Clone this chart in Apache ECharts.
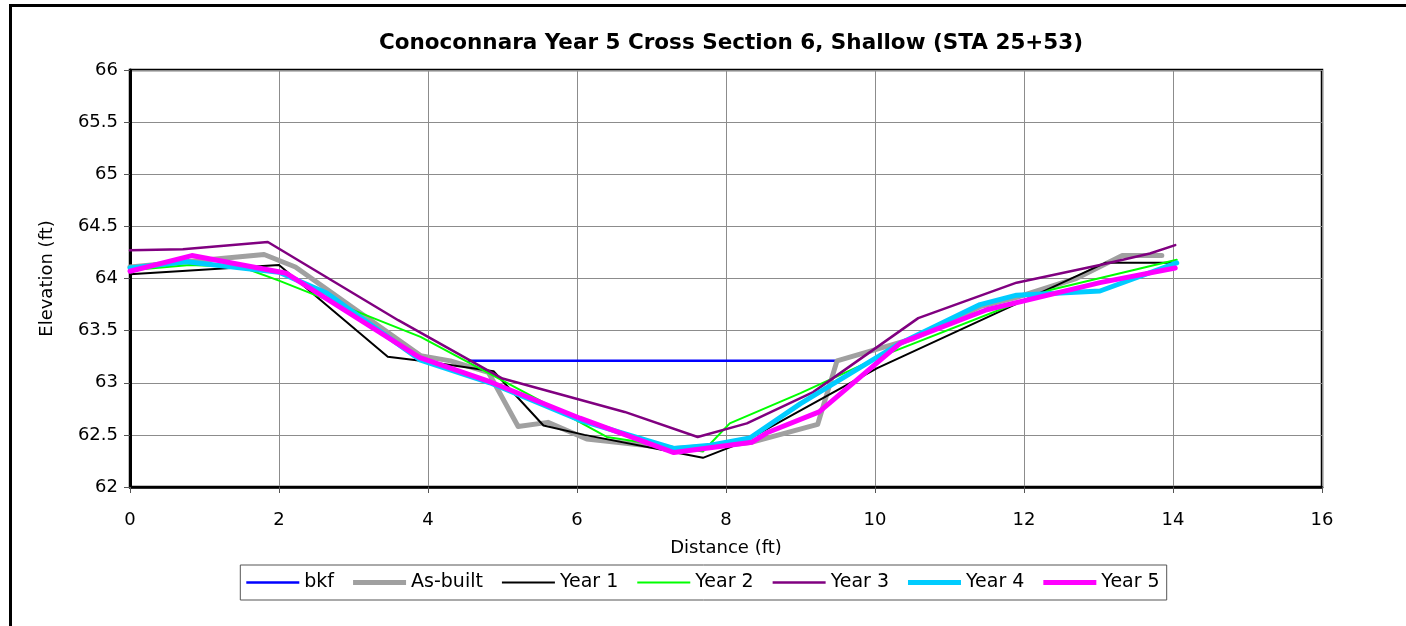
<!DOCTYPE html>
<html>
<head>
<meta charset="utf-8">
<title>Conoconnara Year 5 Cross Section 6</title>
<script src="https://cdn.jsdelivr.net/npm/echarts@6/dist/echarts.min.js"></script>
<style>
  html, body { margin: 0; padding: 0; background: #fff; }
  #chart { width: 1406px; height: 626px; }
</style>
</head>
<body>
<div id="chart"></div>
<script>
// Survey profiles: [distance (ft), elevation (ft)]
const bkf = [[4.55, 63.21], [9.48, 63.21]];
const asBuilt = [[0, 64.11], [1.8, 64.23], [2.22, 64.11], [3.9, 63.26], [4.3, 63.21], [4.81, 63.10],
  [5.21, 62.58], [5.61, 62.62], [6.13, 62.46], [7.3, 62.37], [8.0, 62.40], [8.35, 62.43],
  [9.23, 62.60], [9.49, 63.21], [10.5, 63.42], [11.41, 63.73], [11.9, 63.82], [12.7, 64.0],
  [13.32, 64.22], [13.85, 64.22]];
const year1 = [[0, 64.04], [2.0, 64.13], [3.46, 63.25], [3.9, 63.21], [4.88, 63.11], [5.55, 62.59],
  [6.1, 62.5], [7.69, 62.28], [8.23, 62.43], [10.03, 63.14], [13.09, 64.15], [14.05, 64.15]];
const year2 = [[0, 64.08], [0.8, 64.13], [1.5, 64.11], [2.0, 63.98], [3.9, 63.44], [5.5, 62.83],
  [6.4, 62.48], [7.69, 62.34], [8.05, 62.61], [9.0, 62.9], [10.07, 63.25], [12.35, 63.89],
  [14.05, 64.18]];
const year3 = [[0, 64.27], [0.71, 64.28], [1.85, 64.35], [3.6, 63.6], [5.0, 63.04], [6.64, 62.72],
  [7.62, 62.48], [8.28, 62.61], [9.17, 62.91], [10.58, 63.62], [11.9, 63.96], [13.02, 64.13],
  [13.69, 64.24], [14.03, 64.32]];
const year4 = [[0, 64.10], [0.76, 64.16], [2.0, 64.06], [2.64, 63.86], [3.89, 63.22], [4.83, 63.0],
  [6.04, 62.64], [7.3, 62.37], [7.79, 62.40], [8.32, 62.47], [9.0, 62.8], [10.34, 63.38],
  [11.41, 63.75], [11.9, 63.84], [13.02, 63.88], [14.05, 64.15]];
const year5 = [[0, 64.07], [0.83, 64.22], [2.1, 64.05], [3.89, 63.24], [4.83, 63.01], [6.04, 62.66],
  [7.3, 62.33], [8.35, 62.43], [8.55, 62.52], [9.25, 62.72], [10.34, 63.38], [11.5, 63.7],
  [13.02, 63.96], [14.03, 64.10]];

const seriesNames = ['bkf', 'As-built', 'Year 1', 'Year 2', 'Year 3', 'Year 4', 'Year 5'];
const seriesData = [bkf, asBuilt, year1, year2, year3, year4, year5];
const seriesColors = ['#0000FF', '#A0A0A0', '#000000', '#00FF00', '#800080', '#00CCFF', '#FF00FF'];
const seriesWidths = [2.5, 5, 2, 2, 2.5, 5, 5];

const FONT = 'DejaVu Sans';
const LEGEND_W = 53;

// Legend key: a plain horizontal bar as thick as the series line
function legendBar(width) {
  return 'path://M0,0 L' + LEGEND_W + ',0 L' + LEGEND_W + ',' + width + ' L0,' + width + ' Z';
}

const chart = echarts.init(document.getElementById('chart'), null, { renderer: 'canvas' });

chart.setOption({
  animation: false,
  backgroundColor: '#ffffff',
  title: {
    text: 'Conoconnara Year 5 Cross Section 6, Shallow (STA 25+53)',
    left: 726,
    top: 27,
    textAlign: 'center',
    textStyle: { fontFamily: FONT, fontWeight: 'bold', fontSize: 21.5, color: '#000' }
  },
  grid: {
    left: 130, right: 84, top: 70, bottom: 139,
    show: true, borderColor: '#000', borderWidth: 2.5, backgroundColor: 'transparent'
  },
  legend: {
    data: seriesNames.map((name, i) => ({ name: name, icon: legendBar(seriesWidths[i]) })),
    left: 'center',
    top: 565,
    itemWidth: LEGEND_W,
    itemHeight: 14,
    itemGap: 19,
    symbolKeepAspect: true,
    padding: [8, 7, 8, 6],
    borderColor: '#555',
    borderWidth: 1,
    textStyle: { fontFamily: FONT, fontSize: 19, color: '#000' }
  },
  xAxis: {
    type: 'value',
    min: 0, max: 16, interval: 2,
    name: 'Distance (ft)',
    nameLocation: 'middle',
    nameGap: 52,
    nameTextStyle: { fontFamily: FONT, fontSize: 18, color: '#000' },
    axisLine: { show: true, onZero: false, lineStyle: { color: '#000', width: 2.5 } },
    axisTick: { show: true, inside: false, length: 6, lineStyle: { color: '#555' } },
    axisLabel: { margin: 24, fontFamily: FONT, fontSize: 18, color: '#000' },
    splitLine: { show: true, lineStyle: { color: '#8c8c8c', width: 1 } }
  },
  yAxis: {
    type: 'value',
    min: 62, max: 66, interval: 0.5,
    name: 'Elevation (ft)',
    nameLocation: 'middle',
    nameGap: 74,
    nameRotate: 90,
    nameTextStyle: { fontFamily: FONT, fontSize: 18, color: '#000' },
    axisLine: { show: true, onZero: false, lineStyle: { color: '#000', width: 3 } },
    axisTick: { show: true, inside: false, length: 6, lineStyle: { color: '#555' } },
    axisLabel: { margin: 12, fontFamily: FONT, fontSize: 18, color: '#000' },
    splitLine: { show: true, lineStyle: { color: '#8c8c8c', width: 1 } }
  },
  series: seriesNames.map((name, i) => ({
    name: name,
    type: 'line',
    data: seriesData[i],
    symbol: 'none',
    showSymbol: false,
    color: seriesColors[i],
    lineStyle: { color: seriesColors[i], width: seriesWidths[i], cap: 'round', join: 'round' },
    z: 2 + i
  })),
  graphic: [{
    type: 'rect',
    shape: { x: 10.5, y: 5.5, width: 2000, height: 1200 },
    style: { fill: 'none', stroke: '#000', lineWidth: 3 },
    silent: true
  }]
});
</script>
</body>
</html>
